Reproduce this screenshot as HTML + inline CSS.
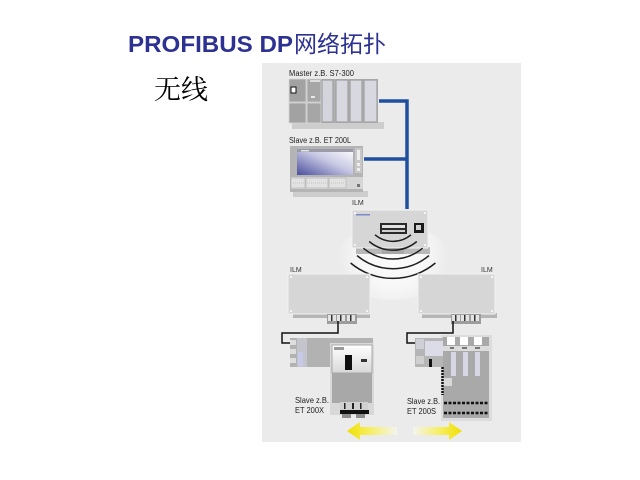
<!DOCTYPE html>
<html><head><meta charset="utf-8"><style>
html,body{margin:0;padding:0;background:#fff;}
svg{display:block;}
</style></head><body>
<svg width="640" height="480" viewBox="0 0 640 480" xmlns="http://www.w3.org/2000/svg">
<defs>
<linearGradient id="scr" x1="0" y1="1" x2="1" y2="0">
<stop offset="0" stop-color="#4a4f9c"/><stop offset="0.55" stop-color="#c8c8e4"/><stop offset="1" stop-color="#ffffff"/>
</linearGradient>
<linearGradient id="al" x1="347" y1="0" x2="397" y2="0" gradientUnits="userSpaceOnUse">
<stop offset="0" stop-color="#f0e000"/><stop offset="0.45" stop-color="#f6ee60"/><stop offset="1" stop-color="#f4f4f0"/>
</linearGradient>
<linearGradient id="ar" x1="413" y1="0" x2="462" y2="0" gradientUnits="userSpaceOnUse">
<stop offset="0" stop-color="#f4f4f0"/><stop offset="0.55" stop-color="#f6ee60"/><stop offset="1" stop-color="#f0e000"/>
</linearGradient>
<linearGradient id="wt" x1="0" y1="0" x2="0" y2="1">
<stop offset="0" stop-color="#ffffff"/><stop offset="1" stop-color="#d8d8d8"/>
</linearGradient>
<radialGradient id="glow" cx="393" cy="255" r="55" gradientUnits="userSpaceOnUse">
<stop offset="0" stop-color="#fbfbfb"/><stop offset="0.6" stop-color="#f7f7f7"/><stop offset="1" stop-color="#ebebeb"/>
</radialGradient>
</defs>
<rect width="640" height="480" fill="#fff"/>

<!-- Title -->
<text x="128" y="52" font-family="Liberation Sans, sans-serif" font-weight="bold" font-size="23" fill="#2d3192" textLength="165" lengthAdjust="spacingAndGlyphs">PROFIBUS DP</text>
<text x="294" y="52" font-family="Liberation Sans, 'Noto Sans CJK SC', sans-serif" font-size="23" fill="#2d3192">网络拓扑</text>
<text x="154" y="99" font-family="'Liberation Serif', 'Noto Serif CJK SC', serif" font-size="27" fill="#000">无线</text>

<!-- Panel -->
<rect x="262" y="63" width="259" height="379" fill="#ebebeb"/>

<!-- Master S7-300 -->
<text x="289" y="76" font-family="Liberation Sans, sans-serif" font-size="8" fill="#222" textLength="65" lengthAdjust="spacingAndGlyphs">Master z.B. S7-300</text>
<rect x="292" y="122" width="92" height="7" fill="#cdcdcd"/>
<rect x="289" y="79" width="89" height="44" fill="#b2b2b2"/>
<rect x="289" y="79" width="17" height="23" fill="#a2a2a2" stroke="#d8d8d8" stroke-width="0.8"/>
<rect x="289" y="103" width="17" height="20" fill="#a2a2a2" stroke="#d8d8d8" stroke-width="0.8"/>
<rect x="307" y="79" width="14" height="23" fill="#a6a6a6" stroke="#d8d8d8" stroke-width="0.8"/>
<rect x="307" y="103" width="14" height="20" fill="#a6a6a6" stroke="#d8d8d8" stroke-width="0.8"/>
<rect x="291" y="87" width="5" height="6" fill="#fff" stroke="#111" stroke-width="1"/>
<rect x="311" y="96" width="4" height="2" fill="#e8e8e8"/>
<rect x="310" y="80" width="10" height="2" fill="#dcdcdc"/>
<rect x="322" y="80" width="11" height="42" fill="#d4d4dc" stroke="#a0a0a0" stroke-width="1.2"/>
<rect x="336" y="80" width="12" height="42" fill="#d8d8e0" stroke="#a0a0a0" stroke-width="1.2"/>
<rect x="350" y="80" width="12" height="42" fill="#d8d8e0" stroke="#a0a0a0" stroke-width="1.2"/>
<rect x="364" y="80" width="13" height="42" fill="#d8d8e0" stroke="#a0a0a0" stroke-width="1.2"/>

<!-- Slave ET 200L -->
<text x="289" y="143" font-family="Liberation Sans, sans-serif" font-size="8" fill="#222" textLength="62" lengthAdjust="spacingAndGlyphs">Slave z.B. ET 200L</text>
<rect x="293" y="191" width="75" height="6" fill="#cdcdcd"/>
<rect x="290" y="146" width="73" height="46" fill="#b4b4b4"/>
<rect x="297" y="149" width="56" height="26" fill="url(#scr)"/>
<rect x="297" y="149" width="56" height="3" fill="#9a9aa8"/>
<rect x="301" y="150" width="8" height="1.5" fill="#e0e0e0"/>
<rect x="355" y="148" width="7" height="25" fill="#c8c8c8"/>
<rect x="357" y="150" width="3" height="10" fill="#eeeeee"/>
<rect x="357" y="163" width="3" height="3" fill="#eeeeee"/>
<rect x="357" y="168" width="3" height="3" fill="#eeeeee"/>
<rect x="291" y="177" width="72" height="12" fill="#d6d6d6"/>
<rect x="291" y="178" width="14" height="10" fill="#e2e2e2" stroke="#b0b0b0" stroke-width="0.6"/>
<rect x="306" y="178" width="22" height="10" fill="#e2e2e2" stroke="#b0b0b0" stroke-width="0.6"/>
<rect x="329" y="178" width="17" height="10" fill="#e2e2e2" stroke="#b0b0b0" stroke-width="0.6"/>
<line x1="293" y1="183" x2="344" y2="183" stroke="#a8a8a8" stroke-width="0.6" stroke-dasharray="1 1"/>
<rect x="357" y="184" width="3" height="3" fill="#777"/>

<!-- Blue bus -->
<path d="M 379 101 H 407 V 209" fill="none" stroke="#1f4f9e" stroke-width="3.5"/>
<path d="M 364 159 H 407" fill="none" stroke="#1f4f9e" stroke-width="3.5"/>

<text x="352" y="205" font-family="Liberation Sans, sans-serif" font-size="7" fill="#333">ILM</text>

<!-- White glow under arcs -->
<ellipse cx="393" cy="262" rx="58" ry="38" fill="url(#glow)"/>

<!-- Center ILM -->
<rect x="356" y="247" width="74" height="7" fill="#b9b9b9"/>
<rect x="352" y="210" width="76" height="38" fill="#d6d6d6" stroke="#f2f2f2" stroke-width="1"/>
<rect x="356" y="214" width="14" height="1.5" fill="#7b8ac8"/>
<circle cx="355" cy="213" r="1" fill="#fff"/><circle cx="425" cy="213" r="1" fill="#fff"/>
<circle cx="355" cy="245" r="1" fill="#fff"/><circle cx="425" cy="245" r="1" fill="#fff"/>
<rect x="380" y="223" width="27" height="11" fill="#2a2a2a"/>
<rect x="382" y="225" width="23" height="3" fill="#e0e0e0"/>
<rect x="382" y="230" width="23" height="2" fill="#cfcfcf"/>
<rect x="414" y="223" width="10" height="10" fill="#1a1a1a"/>
<rect x="416" y="225" width="5" height="5" fill="#d0d0d0"/>
<rect x="382" y="248" width="22" height="6" fill="#a8a8a8"/>
<g fill="none" stroke="#1e1e1e" stroke-width="1.5">
<path d="M 375.0 234.8 A 28 28 0 0 0 411.0 234.8"/>
<path d="M 369.2 241.5 A 37 37 0 0 0 416.8 241.5"/>
<path d="M 363.4 248.2 A 46 46 0 0 0 422.6 248.2"/>
<path d="M 357.0 255.6 A 56 56 0 0 0 429.0 255.6"/>
<path d="M 350.6 263.0 A 66 66 0 0 0 435.4 263.0"/>
</g>

<!-- Left ILM -->
<text x="290" y="272" font-family="Liberation Sans, sans-serif" font-size="7" fill="#333">ILM</text>
<rect x="293" y="313" width="77" height="5" fill="#b5b5b5"/>
<rect x="288" y="274" width="82" height="40" fill="#d6d6d6" stroke="#f2f2f2" stroke-width="1"/>
<circle cx="291" cy="277" r="1" fill="#fff"/><circle cx="367" cy="277" r="1" fill="#fff"/>
<circle cx="291" cy="311" r="1" fill="#fff"/><circle cx="367" cy="311" r="1" fill="#fff"/>
<rect x="327" y="314" width="30" height="10" fill="#9c9c9c"/>
<rect x="328" y="315" width="8" height="6" fill="#e4e4e4"/><rect x="337" y="315" width="8" height="6" fill="#e4e4e4"/><rect x="347" y="315" width="8" height="6" fill="#e4e4e4"/>
<rect x="331" y="315" width="1.5" height="6" fill="#333"/><rect x="340" y="315" width="1.5" height="6" fill="#333"/><rect x="350" y="315" width="1.5" height="6" fill="#333"/>

<!-- Right ILM -->
<text x="481" y="272" font-family="Liberation Sans, sans-serif" font-size="7" fill="#333">ILM</text>
<rect x="422" y="313" width="75" height="5" fill="#b5b5b5"/>
<rect x="418" y="274" width="77" height="40" fill="#d6d6d6" stroke="#f2f2f2" stroke-width="1"/>
<circle cx="421" cy="277" r="1" fill="#fff"/><circle cx="492" cy="277" r="1" fill="#fff"/>
<circle cx="421" cy="311" r="1" fill="#fff"/><circle cx="492" cy="311" r="1" fill="#fff"/>
<rect x="451" y="314" width="30" height="10" fill="#9c9c9c"/>
<rect x="452" y="315" width="8" height="6" fill="#e4e4e4"/><rect x="461" y="315" width="8" height="6" fill="#e4e4e4"/><rect x="471" y="315" width="8" height="6" fill="#e4e4e4"/>
<rect x="455" y="315" width="1.5" height="6" fill="#333"/><rect x="464" y="315" width="1.5" height="6" fill="#333"/><rect x="474" y="315" width="1.5" height="6" fill="#333"/>

<!-- Black cables -->
<path d="M 338 321 V 333 H 282 V 343 H 290" fill="none" stroke="#111" stroke-width="1.5"/>
<path d="M 453 321 V 333 H 407 V 343 H 415" fill="none" stroke="#111" stroke-width="1.5"/>

<!-- ET 200X -->
<rect x="290" y="338" width="83" height="29" fill="#b2b2b2"/>
<rect x="290" y="340" width="6" height="5" fill="#dedede"/>
<rect x="290" y="349" width="6" height="5" fill="#dedede"/>
<rect x="290" y="358" width="6" height="5" fill="#dedede"/>
<rect x="297" y="338" width="10" height="29" fill="#c4c4cc"/>
<rect x="298" y="352" width="5" height="14" fill="#c8c8e8"/>
<rect x="330" y="343" width="44" height="72" fill="#d8d8d8"/>
<rect x="332" y="345" width="40" height="28" fill="url(#wt)" stroke="#9a9a9a" stroke-width="0.8"/>
<rect x="334" y="347" width="10" height="3" fill="#9a9a9a"/>
<rect x="345" y="355" width="7" height="15" fill="#0f0f0f"/>
<rect x="361" y="359" width="6" height="3" fill="#333"/>
<rect x="332" y="373" width="40" height="30" fill="#a8a8a8"/>
<rect x="340" y="402" width="28" height="8" fill="#d0d0d0"/>
<rect x="344" y="403" width="1.5" height="6" fill="#222"/><rect x="352" y="403" width="2" height="6" fill="#222"/><rect x="360" y="403" width="1.5" height="6" fill="#222"/>
<rect x="340" y="410" width="29" height="4" fill="#111"/>
<rect x="342" y="414" width="9" height="4" fill="#8c8c8c"/><rect x="356" y="414" width="9" height="4" fill="#8c8c8c"/>
<text x="295" y="403" font-family="Liberation Sans, sans-serif" font-size="8" fill="#222" textLength="34" lengthAdjust="spacingAndGlyphs">Slave z.B.</text>
<text x="295" y="413" font-family="Liberation Sans, sans-serif" font-size="8" fill="#222" textLength="29" lengthAdjust="spacingAndGlyphs">ET 200X</text>

<!-- ET 200S -->
<rect x="441" y="335" width="51" height="86" fill="#dcdcdc"/>
<rect x="415" y="338" width="32" height="29" fill="#b5b5b5"/>
<rect x="416" y="339" width="8" height="10" fill="#cfcfd8"/>
<rect x="425" y="341" width="20" height="15" fill="#dcdce8"/>
<rect x="416" y="356" width="8" height="8" fill="#cfcfcf"/>
<rect x="429" y="359" width="3" height="8" fill="#111"/>
<rect x="443" y="337" width="46" height="81" fill="#a9a9a9"/>
<rect x="447" y="337" width="8" height="8" fill="#fff"/>
<rect x="460" y="337" width="8" height="8" fill="#fff"/>
<rect x="474" y="337" width="8" height="8" fill="#fff"/>
<rect x="443" y="346" width="46" height="5" fill="#dcdcdc"/>
<rect x="450" y="347" width="4" height="2" fill="#777"/><rect x="462" y="347" width="5" height="2" fill="#777"/><rect x="475" y="347" width="5" height="2" fill="#777"/>
<rect x="451" y="352" width="5" height="24" fill="#d6d6e4"/>
<rect x="463" y="352" width="5" height="24" fill="#d6d6e4"/>
<rect x="475" y="352" width="5" height="24" fill="#d6d6e4"/>
<rect x="443" y="378" width="9" height="8" fill="#d8d8d8"/>
<line x1="442.5" y1="367" x2="442.5" y2="395" stroke="#111" stroke-width="2.5" stroke-dasharray="2 1"/>
<line x1="444" y1="403" x2="489" y2="403" stroke="#111" stroke-width="2.5" stroke-dasharray="3 1.5"/>
<line x1="444" y1="413" x2="489" y2="413" stroke="#111" stroke-width="2.5" stroke-dasharray="3 1.5"/>
<text x="407" y="404" font-family="Liberation Sans, sans-serif" font-size="8" fill="#222" textLength="33" lengthAdjust="spacingAndGlyphs">Slave z.B.</text>
<text x="407" y="414" font-family="Liberation Sans, sans-serif" font-size="8" fill="#222" textLength="29" lengthAdjust="spacingAndGlyphs">ET 200S</text>

<!-- Yellow arrows -->
<polygon points="347,431 360,422 360,427 397,427 397,435 360,435 360,440" fill="url(#al)"/>
<polygon points="462,431 449,422 449,427 413,427 413,435 449,435 449,440" fill="url(#ar)"/>
</svg>
</body></html>
